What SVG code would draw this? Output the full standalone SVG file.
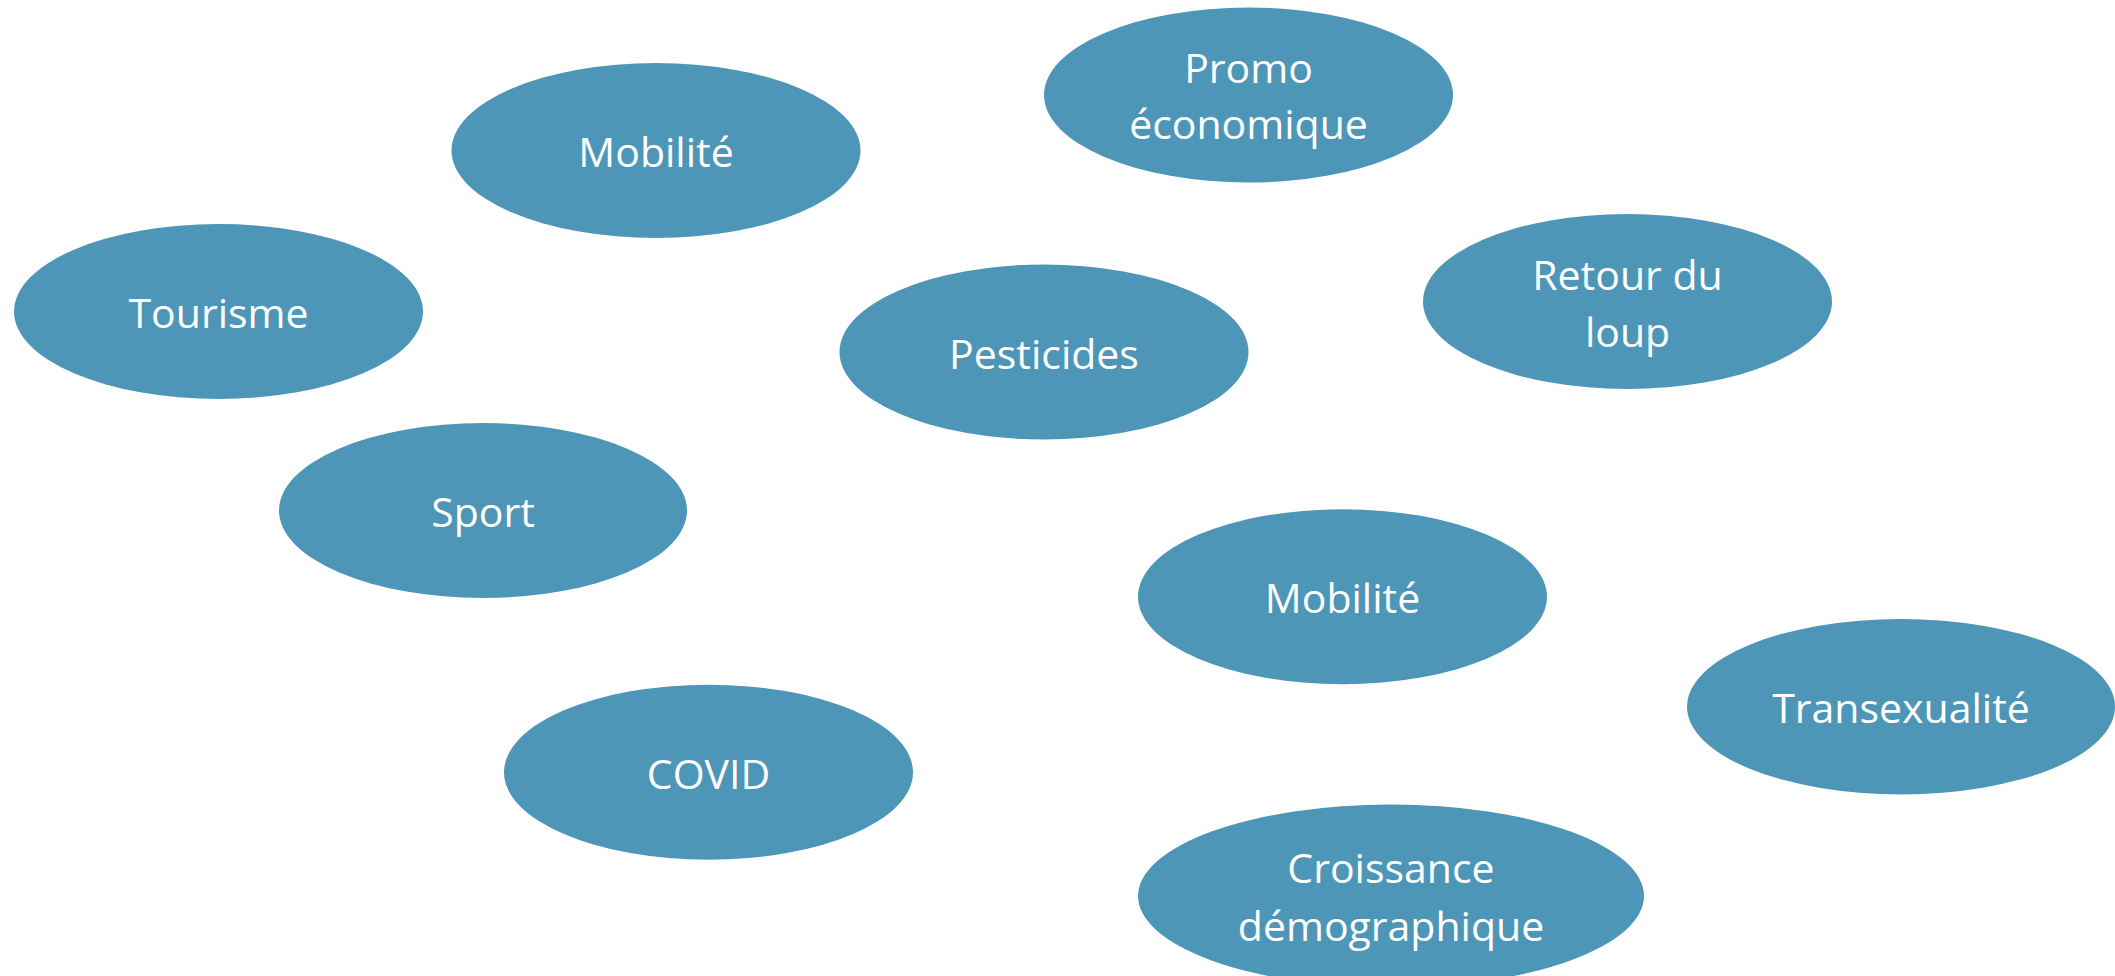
<svg xmlns="http://www.w3.org/2000/svg" width="2115" height="976" viewBox="0 0 2115 976">
<style>
.n{fill:#4D96B8;}
.t{fill:#FFFFFF;font-family:"Open Sans","Noto Sans","Liberation Sans",sans-serif;font-size:41px;text-anchor:middle;}
</style>
<rect width="2115" height="976" fill="#FFFFFF"/>
<g id="connectors"></g>
<g id="mobilite1"><ellipse class="n" cx="656" cy="150.5" rx="204.5" ry="87.5"/><text class="t" x="656" y="167">Mobilité</text></g>
<g id="tourisme"><ellipse class="n" cx="218.5" cy="311.5" rx="204.5" ry="87.5"/><text class="t" x="218.5" y="328">Tourisme</text></g>
<g id="promo"><ellipse class="n" cx="1248.5" cy="95" rx="204.5" ry="87.5"/><text class="t" x="1248.5" y="83">Promo</text><text class="t" x="1248.5" y="139">économique</text></g>
<g id="retour"><ellipse class="n" cx="1627.5" cy="301.5" rx="204.5" ry="87.5"/><text class="t" x="1627.5" y="290">Retour du</text><text class="t" x="1627.5" y="346.5">loup</text></g>
<g id="pesticides"><ellipse class="n" cx="1044" cy="352" rx="204.5" ry="87.5"/><text class="t" x="1044" y="368.5">Pesticides</text></g>
<g id="sport"><ellipse class="n" cx="483" cy="510.5" rx="204" ry="87.5"/><text class="t" x="483" y="527">Sport</text></g>
<g id="mobilite2"><ellipse class="n" cx="1342.5" cy="596.7" rx="204.5" ry="87.5"/><text class="t" x="1342.5" y="613">Mobilité</text></g>
<g id="transexualite"><ellipse class="n" cx="1901" cy="706.7" rx="214" ry="87.7"/><text class="t" x="1901" y="723">Transexualité</text></g>
<g id="covid"><ellipse class="n" cx="708.5" cy="772.2" rx="204.5" ry="87.5"/><text class="t" x="708.5" y="789">COVID</text></g>
<g id="croissance"><ellipse class="n" cx="1391" cy="896" rx="253" ry="91.5"/><text class="t" x="1391" y="883">Croissance</text><text class="t" x="1391" y="941">démographique</text></g>
</svg>
